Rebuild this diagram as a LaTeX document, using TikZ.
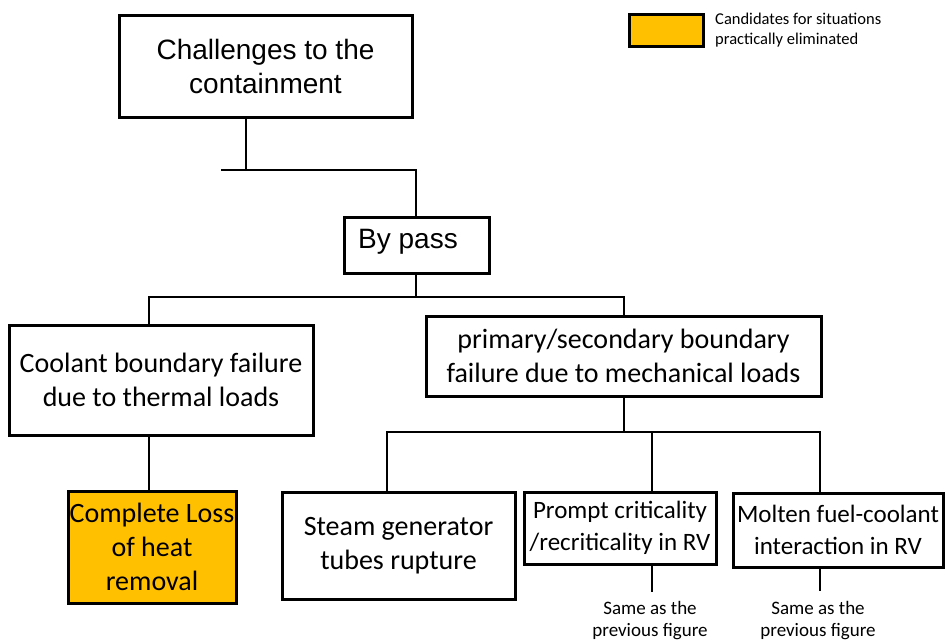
\documentclass[tikz,border=0pt]{standalone}
\usepackage{fontspec}
\setmainfont{Carlito}
\newfontfamily\arialfont{Liberation Sans}
\definecolor{amber}{HTML}{FFC000}
\begin{document}
\begin{tikzpicture}[x=1pt,y=-1pt,
  box/.style={draw, line width=3pt, rectangle, inner sep=0pt, align=center,
    font=\fontsize{28}{34}\selectfont},
  sbox/.style={box, font=\fontsize{25}{32}\selectfont},
  abox/.style={box, font=\arialfont\fontsize{28}{34}\selectfont},
  link/.style={line width=2pt},
  note/.style={align=center, inner sep=0pt, font=\fontsize{19}{22}\selectfont}]
\useasboundingbox (0,0) rectangle (946,641);

% legend
\node[draw, line width=3pt, fill=amber, minimum width=74pt, minimum height=32pt, inner sep=0pt] (key) at (666,30) {};
\node[anchor=west, align=left, inner sep=0pt, font=\fontsize{16.5}{20}\selectfont] (keytext) at (715,30)
  {Candidates for situations\\practically eliminated};

% boxes
\node[abox, minimum width=293pt, minimum height=102pt] (top) at (265.5,66) {Challenges to the\\containment};
\node[abox, minimum width=145pt, minimum height=56pt, text height=20pt, text depth=14pt] (bypass) at (416.5,245) {By pass\hspace{17pt}};
\node[box, minimum width=304pt, minimum height=110pt] (coolant) at (161,380) {Coolant boundary failure\\due to thermal loads};
\node[box, minimum width=395pt, minimum height=80pt] (primary) at (623.5,356) {primary/secondary boundary\\failure due to mechanical loads};
\node[box, fill=amber, minimum width=168pt, minimum height=112pt] (loss) at (152,547) {Complete Loss\\of heat\\removal};
\node[box, minimum width=233pt, minimum height=107pt] (steam) at (398.5,545.5) {Steam generator\\tubes rupture};
\node[sbox, minimum width=192pt, minimum height=72pt] (prompt) at (620,528) {Prompt criticality\\/recriticality in RV};
\node[sbox, minimum width=210pt, minimum height=74pt] (molten) at (838,530) {Molten fuel-coolant\\interaction in RV};

\node[note] (same1) at (650,621) {Same as the\\previous figure};
\node[note] (same2) at (818,621) {Same as the\\previous figure};

% junction points
\coordinate (j1) at (246,170);
\coordinate (j1l) at (221,170);
\coordinate (j1r) at (416,170);
\coordinate (j2) at (416,297);
\coordinate (j2l) at (149,297);
\coordinate (j2r) at (624,297);
\coordinate (j3) at (624,432);
\coordinate (j3l) at (387,432);
\coordinate (j3m) at (652,432);
\coordinate (j3r) at (820,432);
\coordinate (e1) at (652,592);
\coordinate (e2) at (820,591);
\coordinate (c1) at (149,0);

% connectors
\draw[link] (top.south -| j1) -- (j1);
\draw[link] (j1l) -- (j1r) -- (bypass.north -| j1r);
\draw[link] (bypass.south -| j2) -- (j2);
\draw[link] (coolant.north -| j2l) -- (j2l) -- (j2r) -- (primary.north -| j2r);
\draw[link] (primary.south -| j3) -- (j3);
\draw[link] (steam.north -| j3l) -- (j3l) -- (j3r) -- (molten.north -| j3r);
\draw[link] (j3m) -- (prompt.north -| j3m);
\draw[link] (coolant.south -| c1) -- (loss.north -| c1);
\draw[link] (prompt.south -| e1) -- (e1);
\draw[link] (molten.south -| e2) -- (e2);
\end{tikzpicture}
\end{document}
